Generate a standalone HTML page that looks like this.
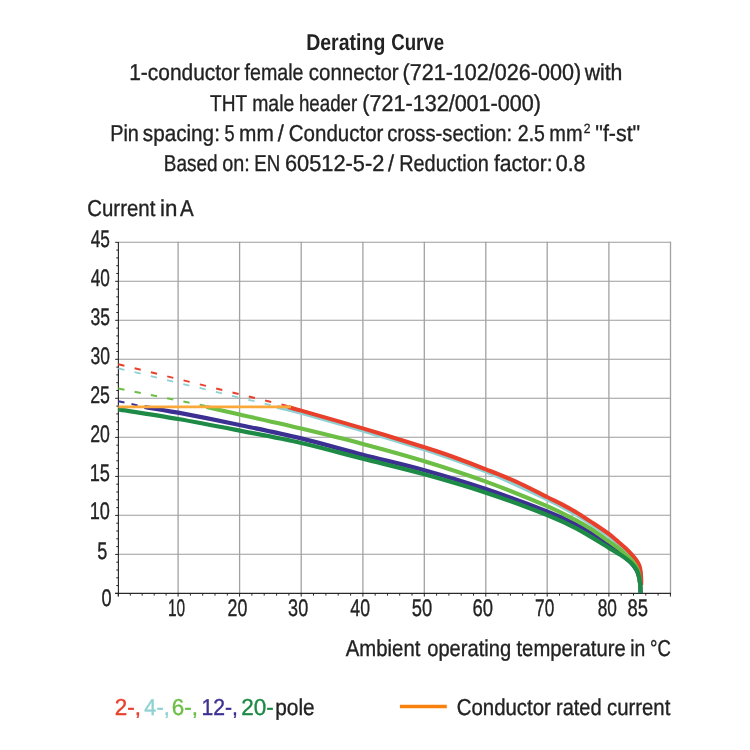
<!DOCTYPE html>
<html lang="en">
<head>
<meta charset="utf-8">
<title>Derating Curve</title>
<style>
html,body{margin:0;padding:0;background:#fff;}
body{width:750px;height:750px;overflow:hidden;}
svg{display:block;}
text{font-family:"Liberation Sans",sans-serif;font-size:23px;fill:#222;stroke:#222;stroke-width:0.35px;text-rendering:geometricPrecision;font-kerning:none;}
.b{font-weight:bold;stroke-width:0;}
</style>
</head>
<body>
<svg width="750" height="750" viewBox="0 0 750 750">
<rect width="750" height="750" fill="#fff"/>
<g id="title">
<text class="b" x="306.20" y="49.5" textLength="79.11" lengthAdjust="spacingAndGlyphs">Derating</text>
<text class="b" x="391.23" y="49.5" textLength="52.90" lengthAdjust="spacingAndGlyphs">Curve</text>
<text x="129.21" y="80" textLength="110.44" lengthAdjust="spacingAndGlyphs">1-conductor</text>
<text x="244.52" y="80" textLength="59.05" lengthAdjust="spacingAndGlyphs">female</text>
<text x="308.83" y="80" textLength="89.81" lengthAdjust="spacingAndGlyphs">connector</text>
<text x="402.46" y="80" textLength="178.78" lengthAdjust="spacingAndGlyphs">(721-102/026-000)</text>
<text x="584.63" y="80" textLength="37.75" lengthAdjust="spacingAndGlyphs">with</text>
<text x="209.97" y="110.5" textLength="37.17" lengthAdjust="spacingAndGlyphs">THT</text>
<text x="252.21" y="110.5" textLength="42.05" lengthAdjust="spacingAndGlyphs">male</text>
<text x="298.90" y="110.5" textLength="58.31" lengthAdjust="spacingAndGlyphs">header</text>
<text x="362.36" y="110.5" textLength="178.57" lengthAdjust="spacingAndGlyphs">(721-132/001-000)</text>
<text x="110.17" y="141" textLength="28.72" lengthAdjust="spacingAndGlyphs">Pin</text>
<text x="142.82" y="141" textLength="77.07" lengthAdjust="spacingAndGlyphs">spacing:</text>
<text x="224.47" y="141" textLength="10.09" lengthAdjust="spacingAndGlyphs">5</text>
<text x="239.01" y="141" textLength="34.76" lengthAdjust="spacingAndGlyphs">mm</text>
<text x="277.86" y="141" textLength="6.07" lengthAdjust="spacingAndGlyphs">/</text>
<text x="288.76" y="141" textLength="94.68" lengthAdjust="spacingAndGlyphs">Conductor</text>
<text x="387.24" y="141" textLength="124.91" lengthAdjust="spacingAndGlyphs">cross-section:</text>
<text x="517.82" y="141" textLength="27.10" lengthAdjust="spacingAndGlyphs">2.5</text>
<text x="549.28" y="141" textLength="33.24" lengthAdjust="spacingAndGlyphs">mm</text>
<text x="595.29" y="141" textLength="44.92" lengthAdjust="spacingAndGlyphs">&quot;f-st&quot;</text>
<text x="583.79" y="133.1" textLength="6.71" lengthAdjust="spacingAndGlyphs" style="font-size:13.4px;">2</text>
<text x="163.74" y="171" textLength="53.78" lengthAdjust="spacingAndGlyphs">Based</text>
<text x="222.27" y="171" textLength="27.54" lengthAdjust="spacingAndGlyphs">on:</text>
<text x="254.37" y="171" textLength="25.96" lengthAdjust="spacingAndGlyphs">EN</text>
<text x="284.99" y="171" textLength="99.30" lengthAdjust="spacingAndGlyphs">60512-5-2</text>
<text x="388.11" y="171" textLength="6.07" lengthAdjust="spacingAndGlyphs">/</text>
<text x="399.17" y="171" textLength="89.63" lengthAdjust="spacingAndGlyphs">Reduction</text>
<text x="493.90" y="171" textLength="58.83" lengthAdjust="spacingAndGlyphs">factor:</text>
<text x="555.76" y="171" textLength="29.77" lengthAdjust="spacingAndGlyphs">0.8</text>
</g>
<text x="87.26" y="215.8" textLength="68.09" lengthAdjust="spacingAndGlyphs">Current</text>
<text x="160.11" y="215.8" textLength="17.34" lengthAdjust="spacingAndGlyphs">in</text>
<text x="179.96" y="215.8" textLength="13.68" lengthAdjust="spacingAndGlyphs">A</text>
<g stroke="#9d9d9d" stroke-width="1.1" fill="none">
<path d="M118.5 242.3H671.1M118.5 281.3H671.1M118.5 320.3H671.1M118.5 359.3H671.1M118.5 398.3H671.1M118.5 437.3H671.1M118.5 476.3H671.1M118.5 515.3H671.1M118.5 554.3H671.1"/>
<path stroke="#a2a2a2" stroke-width="1.3" d="M178.1 241.75V594M239.6 241.75V594M301.2 241.75V594M362.9 241.75V594M424.3 241.75V594M485.8 241.75V594M547.2 241.75V594M608.9 241.75V594M670.5 241.75V594"/>
</g>
<g stroke="#2a2a2a" stroke-width="1.15" fill="none"><path d="M118.4 242V596.2M115.2 593.4H671"/></g>
<g id="ticks" stroke="#222" stroke-width="1" fill="none"><path d="M115.2 593.4H118.5M116.3 585.6H118.5M116.3 577.8H118.5M116.3 570.0H118.5M116.3 562.2H118.5M115.2 554.4H118.5M116.3 546.6H118.5M116.3 538.8H118.5M116.3 531.0H118.5M116.3 523.2H118.5M115.2 515.4H118.5M116.3 507.6H118.5M116.3 499.8H118.5M116.3 492.0H118.5M116.3 484.2H118.5M115.2 476.4H118.5M116.3 468.6H118.5M116.3 460.8H118.5M116.3 453.0H118.5M116.3 445.2H118.5M115.2 437.4H118.5M116.3 429.6H118.5M116.3 421.8H118.5M116.3 413.9H118.5M116.3 406.1H118.5M115.2 398.3H118.5M116.3 390.5H118.5M116.3 382.7H118.5M116.3 374.9H118.5M116.3 367.1H118.5M115.2 359.3H118.5M116.3 351.5H118.5M116.3 343.7H118.5M116.3 335.9H118.5M116.3 328.1H118.5M115.2 320.3H118.5M116.3 312.5H118.5M116.3 304.7H118.5M116.3 296.9H118.5M116.3 289.1H118.5M115.2 281.3H118.5M116.3 273.5H118.5M116.3 265.7H118.5M116.3 257.9H118.5M116.3 250.1H118.5M115.2 242.3H118.5"/><path d="M118.3 593.4V596.6M130.3 593.4V595.6M142.2 593.4V595.6M154.2 593.4V595.6M166.1 593.4V595.6M178.1 593.4V596.6M190.4 593.4V595.6M202.7 593.4V595.6M215.0 593.4V595.6M227.3 593.4V595.6M239.6 593.4V596.6M251.9 593.4V595.6M264.2 593.4V595.6M276.6 593.4V595.6M288.9 593.4V595.6M301.2 593.4V596.6M313.5 593.4V595.6M325.9 593.4V595.6M338.2 593.4V595.6M350.6 593.4V595.6M362.9 593.4V596.6M375.2 593.4V595.6M387.5 593.4V595.6M399.7 593.4V595.6M412.0 593.4V595.6M424.3 593.4V596.6M436.6 593.4V595.6M448.9 593.4V595.6M461.2 593.4V595.6M473.5 593.4V595.6M485.8 593.4V596.6M498.1 593.4V595.6M510.4 593.4V595.6M522.6 593.4V595.6M534.9 593.4V595.6M547.2 593.4V596.6M559.5 593.4V595.6M571.9 593.4V595.6M584.2 593.4V595.6M596.6 593.4V595.6M608.9 593.4V596.6M621.2 593.4V595.6M633.5 593.4V595.6M645.8 593.4V595.6M658.1 593.4V595.6M670.4 593.4V596.6"/></g>
<g id="ylab">
<text x="90.70" y="246.6" textLength="19.22" lengthAdjust="spacingAndGlyphs" style="font-size:24px;">45</text>
<text x="90.70" y="285.6" textLength="19.17" lengthAdjust="spacingAndGlyphs" style="font-size:24px;">40</text>
<text x="90.43" y="324.6" textLength="19.50" lengthAdjust="spacingAndGlyphs" style="font-size:24px;">35</text>
<text x="90.43" y="363.6" textLength="19.45" lengthAdjust="spacingAndGlyphs" style="font-size:24px;">30</text>
<text x="90.21" y="402.5" textLength="19.74" lengthAdjust="spacingAndGlyphs" style="font-size:24px;">25</text>
<text x="90.21" y="441.5" textLength="19.68" lengthAdjust="spacingAndGlyphs" style="font-size:24px;">20</text>
<text x="89.71" y="480.5" textLength="20.25" lengthAdjust="spacingAndGlyphs" style="font-size:24px;">15</text>
<text x="89.72" y="519.4" textLength="20.19" lengthAdjust="spacingAndGlyphs" style="font-size:24px;">10</text>
<text x="97.37" y="559.1" textLength="10.09" lengthAdjust="spacingAndGlyphs" style="font-size:24px;">5</text>
<text x="101.59" y="606" textLength="10.12" lengthAdjust="spacingAndGlyphs" style="font-size:24px;">0</text>
</g>
<g id="xlab">
<text x="168.02" y="616" textLength="17.18" lengthAdjust="spacingAndGlyphs" style="font-size:24px;">10</text>
<text x="227.61" y="616" textLength="19.79" lengthAdjust="spacingAndGlyphs" style="font-size:24px;">20</text>
<text x="288.11" y="616" textLength="20.09" lengthAdjust="spacingAndGlyphs" style="font-size:24px;">30</text>
<text x="350.29" y="616" textLength="19.70" lengthAdjust="spacingAndGlyphs" style="font-size:24px;">40</text>
<text x="411.76" y="616" textLength="20.45" lengthAdjust="spacingAndGlyphs" style="font-size:24px;">50</text>
<text x="472.46" y="616" textLength="20.56" lengthAdjust="spacingAndGlyphs" style="font-size:24px;">60</text>
<text x="535.12" y="616" textLength="19.16" lengthAdjust="spacingAndGlyphs" style="font-size:24px;">70</text>
<text x="597.65" y="616" textLength="19.23" lengthAdjust="spacingAndGlyphs" style="font-size:24px;">80</text>
<text x="627.60" y="616" textLength="20.47" lengthAdjust="spacingAndGlyphs" style="font-size:24px;">85</text>
</g>
<text x="345.76" y="655.8" textLength="74.59" lengthAdjust="spacingAndGlyphs">Ambient</text>
<text x="427.26" y="655.8" textLength="83.84" lengthAdjust="spacingAndGlyphs">operating</text>
<text x="516.49" y="655.8" textLength="109.21" lengthAdjust="spacingAndGlyphs">temperature</text>
<text x="630.21" y="655.8" textLength="15.05" lengthAdjust="spacingAndGlyphs">in</text>
<text x="650.10" y="655.8" textLength="20.81" lengthAdjust="spacingAndGlyphs">°C</text>
<g fill="none" stroke-linejoin="round" stroke-linecap="butt">
<path d="M118.3 364.3L288 406.1" stroke="#e8402a" stroke-width="2" stroke-dasharray="6.3 10.5"/>
<path d="M118.3 368.3L277 406.7" stroke="#8fd0d2" stroke-width="1.8" stroke-dasharray="6.3 10.42"/>
<path d="M118.3 388.4L207 406.3" stroke="#6cbe45" stroke-width="2" stroke-dasharray="6.3 10.3"/>
<path d="M118.3 401.2L145 407" stroke="#3c3092" stroke-width="2" stroke-dasharray="6.3 7.2"/>
<path id="c4" stroke="#8fd0d2" stroke-width="4" d="M277.0 406.9C281.0 407.9 286.9 408.9 301.2 412.8C315.5 416.8 342.3 424.5 362.8 430.6C383.3 436.7 403.9 442.6 424.4 449.4C444.9 456.2 465.4 463.2 485.9 471.5C506.3 479.8 531.8 491.8 547.1 499.2C562.5 506.6 570.2 511.3 578.0 515.8C585.8 520.3 588.9 522.6 594.0 526.0C599.1 529.4 604.6 533.2 608.9 536.3C613.2 539.4 616.4 542.0 619.6 544.6C622.8 547.2 625.6 549.7 628.0 552.0C630.4 554.3 632.3 556.4 634.0 558.5C635.7 560.6 636.9 562.2 638.0 564.5C639.1 566.8 640.0 569.4 640.5 572.0C641.0 574.6 641.1 578.7 641.2 580.0"/>
<path id="c2" stroke="#e8402a" stroke-width="4.1" d="M288.0 406.9C290.2 407.5 288.7 407.0 301.2 410.6C313.7 414.2 342.3 422.3 362.8 428.4C383.3 434.5 409.5 442.6 424.4 447.3C439.3 452.0 441.8 452.8 452.0 456.5C462.2 460.2 475.2 465.1 485.9 469.3C496.6 473.5 505.8 477.0 516.0 481.6C526.2 486.2 539.4 493.2 547.1 497.0C554.8 500.8 556.9 501.7 562.0 504.4C567.1 507.1 572.7 510.2 578.0 513.4C583.3 516.6 588.9 520.4 594.0 523.8C599.1 527.2 605.2 531.3 608.9 534.0C612.6 536.7 613.6 537.9 616.4 540.2C619.1 542.5 622.9 545.6 625.4 548.0C627.9 550.4 629.8 552.4 631.6 554.4C633.4 556.4 635.1 558.3 636.4 560.2C637.7 562.1 638.7 563.8 639.4 565.8C640.1 567.8 640.4 569.6 640.7 572.0C641.0 574.4 641.1 577.8 641.2 580.0C641.3 582.2 641.2 584.2 641.2 585.0"/>
<path id="c12" stroke="#3c3092" stroke-width="4.3" d="M144.5 407.0C150.1 407.9 162.2 409.7 178.1 412.7C193.9 415.7 219.1 420.7 239.6 425.0C260.1 429.3 280.7 433.4 301.2 438.4C321.7 443.4 342.3 449.5 362.8 454.8C383.3 460.1 403.9 464.6 424.4 470.3C444.9 476.0 465.4 482.2 485.9 489.1C506.3 496.0 531.8 505.4 547.1 511.5C562.5 517.5 570.2 521.6 578.0 525.4C585.8 529.2 588.9 531.1 594.0 534.5C599.1 537.9 604.5 542.3 608.9 545.5C613.3 548.7 617.3 551.5 620.4 553.8C623.5 556.0 625.2 557.3 627.2 559.0C629.2 560.7 630.8 562.1 632.4 564.0C634.0 565.9 635.7 568.4 636.8 570.4C637.9 572.4 638.2 573.7 638.8 576.0C639.4 578.3 639.9 581.1 640.2 584.0C640.5 586.9 640.5 591.7 640.6 593.2"/>
<path id="c6" stroke="#6cbe45" stroke-width="4.1" d="M206.5 407.0C212.0 408.2 223.8 410.9 239.6 414.5C255.4 418.1 280.7 423.6 301.2 428.5C321.7 433.4 342.3 438.4 362.8 443.9C383.3 449.3 403.9 454.9 424.4 461.2C444.9 467.5 465.4 474.1 485.9 481.6C506.3 489.1 531.8 499.6 547.1 506.2C562.5 512.8 570.2 517.3 578.0 521.4C585.8 525.5 588.9 527.7 594.0 531.0C599.1 534.3 604.8 538.5 608.9 541.4C613.0 544.3 616.0 546.2 618.8 548.4C621.5 550.6 623.3 552.5 625.4 554.4C627.5 556.3 629.7 558.1 631.4 560.0C633.1 561.9 634.6 563.8 635.8 565.8C637.0 567.8 637.7 569.6 638.4 572.0C639.1 574.4 639.5 577.3 639.8 580.0C640.1 582.7 640.3 586.7 640.4 588.0"/>
<path id="c20" stroke="#1d8a46" stroke-width="4.3" d="M118.3 409.4C128.3 411.0 157.9 415.5 178.1 419.0C198.3 422.5 219.1 426.6 239.6 430.6C260.1 434.6 280.7 438.3 301.2 443.0C321.7 447.7 342.3 453.5 362.8 458.7C383.3 463.9 403.9 468.6 424.4 474.3C444.9 480.0 465.4 485.9 485.9 492.7C506.3 499.5 531.8 508.9 547.1 515.0C562.5 521.1 567.7 523.9 578.0 529.4C588.3 534.9 601.8 543.6 608.9 547.8C616.0 552.0 617.3 552.8 620.4 554.8C623.5 556.8 625.2 558.0 627.2 559.6C629.2 561.2 630.8 562.4 632.4 564.2C634.0 566.0 635.7 568.4 636.8 570.4C637.9 572.4 638.2 573.7 638.8 576.0C639.4 578.3 639.9 581.1 640.2 584.0C640.5 586.9 640.5 591.7 640.6 593.2"/>
<path d="M118.3 406.9H291" stroke="#fba83a" stroke-width="2.6"/>
</g>
<g id="legend">
<text x="114.87" y="715.4" textLength="26.14" lengthAdjust="spacingAndGlyphs" style="fill:#e8402a;stroke:#e8402a;">2-,</text>
<text x="144.30" y="715.4" textLength="25.46" lengthAdjust="spacingAndGlyphs" style="fill:#8fd0d2;stroke:#8fd0d2;">4-,</text>
<text x="171.86" y="715.4" textLength="26.15" lengthAdjust="spacingAndGlyphs" style="fill:#6cbe45;stroke:#6cbe45;">6-,</text>
<text x="201.39" y="715.4" textLength="36.52" lengthAdjust="spacingAndGlyphs" style="fill:#3c3092;stroke:#3c3092;">12-,</text>
<text x="241.27" y="715.4" textLength="32.53" lengthAdjust="spacingAndGlyphs" style="fill:#1d8a46;stroke:#1d8a46;">20-</text>
<text x="275.25" y="715.4" textLength="39.47" lengthAdjust="spacingAndGlyphs">pole</text>
<path d="M399.9 706.4H446.8" stroke="#f9820f" stroke-width="3.5" fill="none"/>
<text x="456.66" y="715.4" textLength="94.28" lengthAdjust="spacingAndGlyphs">Conductor</text>
<text x="555.97" y="715.4" textLength="45.62" lengthAdjust="spacingAndGlyphs">rated</text>
<text x="607.04" y="715.4" textLength="63.31" lengthAdjust="spacingAndGlyphs">current</text>
</g>
</svg>
</body>
</html>
